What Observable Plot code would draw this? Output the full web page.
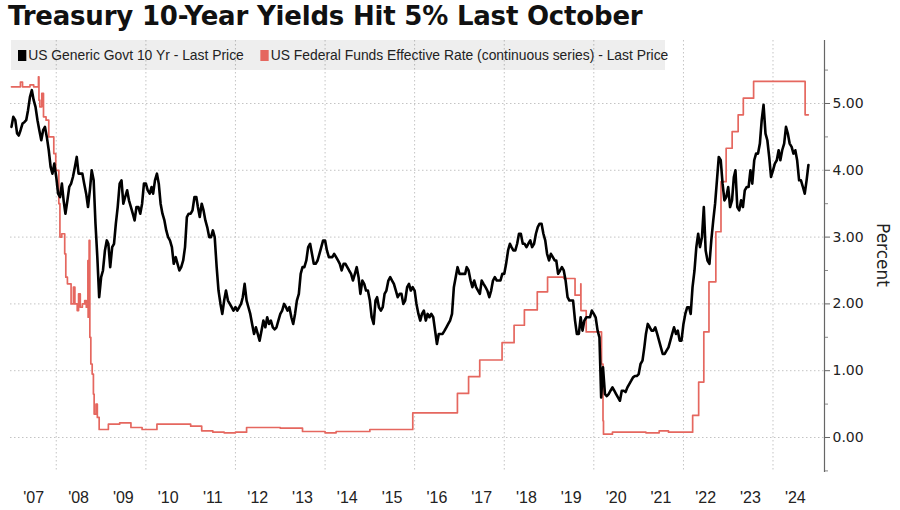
<!DOCTYPE html>
<html>
<head>
<meta charset="utf-8">
<script src="https://cdn.jsdelivr.net/npm/d3@7"></script>
<script src="https://cdn.jsdelivr.net/npm/@observablehq/plot@0.6"></script>
<style>
  body { margin: 0; background: #fff; }
  #wrap { position: relative; width: 900px; height: 510px; overflow: hidden; background: #fff; }
  #title { position: absolute; left: 8px; top: 1px; font: bold 26px "DejaVu Sans", sans-serif; line-height: 30px; color: #111; white-space: nowrap; letter-spacing: -0.2px; }
  #chart { position: absolute; left: 0; top: 36px; }
  #legend { position: absolute; left: 11px; top: 40px; width: 654px; height: 30px; background: rgba(0,0,0,0.065); }
  #legendInner { position: absolute; left: 7px; top: 0; transform-origin: 0 50%; transform: scaleX(0.925);
            font: 15px "Liberation Sans", sans-serif; color: #222; line-height: 30px; white-space: nowrap; }
  #legend span.sw { display: inline-block; width: 9px; height: 11px; margin-right: 2px; vertical-align: -1px; }
  #ylabel { position: absolute; left: 883px; top: 255px; transform: translate(-50%, -50%) rotate(90deg);
            font: 17px "DejaVu Sans", sans-serif; color: #222; white-space: nowrap; }
</style>
</head>
<body>
<div id="wrap">
  <div id="title"></div>
  <div id="chart"></div>
  <div id="legend"><div id="legendInner"></div></div>
  <div id="ylabel"></div>
</div>
<script>
// ---------------- DATA ----------------
const titleText = "Treasury 10-Year Yields Hit 5% Last October";
const seriesNames = ["US Generic Govt 10 Yr - Last Price", "US Federal Funds Effective Rate (continuous series) - Last Price"];
const axisTitle = "Percent";

// US 10Y yield, two readings per month (1st, 16th), starting Jan 2007
const tenYrStart = [2007, 0];
const tenYr2007 = [4.65,4.80, 4.75,4.55, 4.52,4.60, 4.70,4.72, 4.75,4.90, 5.10,5.20, 5.05,4.95, 4.75,4.60, 4.45,4.60, 4.65,4.50, 4.30,4.05, 3.95,4.10];
const tenYr2008 = [3.90,3.65, 3.60,3.80, 3.55,3.35, 3.55,3.75, 3.80,3.90, 4.05,4.20, 3.95,3.95, 3.95,3.80, 3.65,3.45, 3.70,4.00, 3.85,3.20, 2.70,2.10];
const tenYr2009 = [2.40,2.50, 2.80,2.95, 2.90,2.55, 2.85,2.90, 3.20,3.45, 3.80,3.85, 3.50,3.60, 3.70,3.55, 3.45,3.35, 3.25,3.45, 3.45,3.35, 3.50,3.80];
const tenYr2010 = [3.80,3.70, 3.65,3.75, 3.65,3.85, 3.95,3.80, 3.50,3.35, 3.25,3.10, 3.00,2.95, 2.85,2.60, 2.70,2.60, 2.50,2.55, 2.65,2.85, 3.30,3.35];
const tenYr2011 = [3.35,3.40, 3.60,3.60, 3.45,3.30, 3.50,3.40, 3.25,3.15, 3.00,3.00, 3.10,3.00, 2.55,2.20, 2.00,1.85, 2.05,2.20, 2.05,2.00, 1.95,1.90];
const tenYr2012 = [1.95,1.90, 1.95,2.00, 2.10,2.30, 2.05,1.95, 1.85,1.70, 1.55,1.65, 1.55,1.45, 1.60,1.75, 1.65,1.80, 1.70,1.75, 1.65,1.62, 1.65,1.75];
const tenYr2013 = [1.85,1.90, 2.00,1.95, 1.90,1.95, 1.80,1.70, 1.85,2.05, 2.15,2.45, 2.55,2.55, 2.65,2.85, 2.90,2.75, 2.60,2.60, 2.65,2.75, 2.85,2.95];
const tenYr2014 = [2.95,2.80, 2.70,2.70, 2.70,2.75, 2.70,2.65, 2.60,2.50, 2.60,2.60, 2.55,2.50, 2.45,2.35, 2.45,2.55, 2.40,2.15, 2.35,2.30, 2.20,2.20];
const tenYr2015 = [2.05,1.80, 1.70,2.05, 2.10,1.95, 1.90,1.95, 2.15,2.20, 2.35,2.40, 2.35,2.30, 2.20,2.10, 2.15,2.15, 2.00,2.05, 2.25,2.30, 2.20,2.25];
const tenYr2016 = [2.20,2.00, 1.85,1.75, 1.85,1.90, 1.75,1.85, 1.80,1.85, 1.80,1.60, 1.40,1.55, 1.55,1.55, 1.60,1.65, 1.70,1.75, 1.85,2.25, 2.40,2.55];
const tenYr2017 = [2.45,2.45, 2.45,2.45, 2.55,2.50, 2.35,2.25, 2.35,2.25, 2.20,2.15, 2.35,2.30, 2.25,2.20, 2.10,2.20, 2.35,2.40, 2.35,2.35, 2.35,2.45];
const tenYr2018 = [2.45,2.60, 2.80,2.90, 2.85,2.80, 2.80,2.90, 3.05,3.05, 2.90,2.90, 2.85,2.90, 2.95,2.85, 2.90,3.05, 3.15,3.20, 3.20,3.05, 2.95,2.75];
const tenYr2019 = [2.65,2.75, 2.70,2.65, 2.65,2.45, 2.50,2.55, 2.50,2.35, 2.10,2.05, 2.05,2.05, 1.75,1.55, 1.55,1.80, 1.60,1.75, 1.80,1.80, 1.80,1.90];
const tenYr2020 = [1.85,1.80, 1.60,1.50, 0.60,1.05, 0.65,0.62, 0.65,0.70, 0.75,0.70, 0.65,0.60, 0.55,0.70, 0.70,0.68, 0.75,0.80, 0.85,0.90, 0.92,0.92];
const tenYr2021 = [0.95,1.10, 1.15,1.35, 1.55,1.70, 1.65,1.60, 1.60,1.65, 1.55,1.45, 1.35,1.25, 1.25,1.30, 1.35,1.45, 1.55,1.65, 1.55,1.60, 1.45,1.45];
const tenYr2022 = [1.70,1.85, 1.95,1.95, 1.85,2.25, 2.50,2.85, 3.05,2.85, 3.00,3.45, 2.80,2.65, 2.60,2.95, 3.25,3.50, 3.85,4.20, 4.15,3.80, 3.55,3.60];
const tenYr2023 = [3.75,3.45, 3.55,3.90, 4.00,3.45, 3.40,3.55, 3.45,3.70, 3.75,3.75, 4.00,3.80, 4.15,4.25, 4.25,4.40, 4.75,4.98, 4.55,4.45, 4.20,3.90];
const tenYr2024 = [4.00,4.10, 4.15,4.30, 4.15,4.30, 4.40,4.65, 4.55,4.40, 4.35,4.25, 4.30,4.15, 3.85,3.85, 3.75,3.65, 3.85,4.08];

// Fed funds effective rate: change dates and levels (step series)
const fedDates = ["2007-01-01","2007-03-15","2007-04-01","2007-06-01","2007-07-01","2007-08-09","2007-08-13","2007-08-20","2007-09-05","2007-09-19","2007-10-10","2007-11-01","2007-12-12","2007-12-28",
  "2008-01-22","2008-01-31","2008-02-15","2008-03-10","2008-03-19","2008-04-01","2008-05-01","2008-05-20","2008-06-01","2008-06-20","2008-07-01","2008-07-15","2008-08-01","2008-08-20","2008-09-02","2008-09-15","2008-09-17","2008-09-25","2008-10-01","2008-10-09","2008-10-20","2008-10-30","2008-11-05","2008-11-20","2008-12-01","2008-12-16",
  "2009-03-01","2009-06-01","2009-09-01","2009-12-01","2010-04-01","2011-01-01","2011-04-01","2011-07-01","2011-10-01","2012-01-01","2012-04-01","2013-01-01","2013-07-01","2014-01-01","2014-04-01","2015-01-01",
  "2015-12-17","2016-12-15","2017-03-16","2017-06-15","2017-12-14","2018-03-22","2018-06-14","2018-09-27","2018-12-20","2019-05-01","2019-08-01","2019-09-17","2019-09-18","2019-10-31",
  "2020-03-04","2020-03-16","2020-03-20","2020-06-01","2021-03-01","2021-06-17","2021-09-01",
  "2022-03-17","2022-05-05","2022-06-16","2022-07-28","2022-09-22","2022-11-03","2022-12-15","2023-02-02","2023-03-23","2023-05-04","2023-07-27","2024-09-19","2024-10-15"];
const fedValues = [5.25,5.32,5.25,5.28,5.25,5.40,5.05,4.95,5.15,4.80,4.75,4.50,4.25,4.00,
  3.50,3.00,3.05,2.75,2.40,2.30,2.00,2.25,2.00,1.90,2.15,1.95,2.00,2.05,1.95,2.65,1.80,2.95,1.50,1.10,0.95,0.65,0.35,0.50,0.30,0.12,
  0.20,0.22,0.15,0.12,0.20,0.17,0.10,0.08,0.07,0.08,0.15,0.14,0.09,0.07,0.09,0.12,
  0.37,0.66,0.91,1.16,1.42,1.68,1.91,2.18,2.40,2.38,2.13,2.30,1.90,1.58,
  1.10,0.25,0.05,0.08,0.07,0.10,0.08,
  0.33,0.83,1.58,2.33,3.08,3.83,4.33,4.58,4.83,5.08,5.33,4.83,4.83];

const yTicks = [0, 1, 2, 3, 4, 5];
const yMinorTicks = [-0.5, 0.5, 1.5, 2.5, 3.5, 4.5, 5.5];
const gridYears = [2008, 2010, 2012, 2014, 2016, 2018, 2020, 2022, 2024];
const labelYears = [2007,2008,2009,2010,2011,2012,2013,2014,2015,2016,2017,2018,2019,2020,2021,2022,2023,2024];

// ---------------- BUILD ----------------
const tenYrAll = [tenYr2007,tenYr2008,tenYr2009,tenYr2010,tenYr2011,tenYr2012,tenYr2013,tenYr2014,tenYr2015,
  tenYr2016,tenYr2017,tenYr2018,tenYr2019,tenYr2020,tenYr2021,tenYr2022,tenYr2023,tenYr2024].flat();
const tenData = tenYrAll.map((v, i) => {
  const m = tenYrStart[1] + Math.floor(i / 2);
  return {date: new Date(Date.UTC(tenYrStart[0], m, i % 2 === 0 ? 1 : 16)), value: v};
});
const fedData = fedDates.map((d, i) => ({date: new Date(d + "T00:00:00Z"), value: fedValues[i]}));

const RED = "#e5675f";
const xStart = new Date(Date.UTC(2006, 11, 24));
const xEnd = new Date(Date.UTC(2025, 1, 24));

document.getElementById("title").textContent = titleText;
document.getElementById("ylabel").textContent = axisTitle;
const legend = document.getElementById("legendInner");
legend.innerHTML =
  `<span class="sw" id="sw0"></span><span id="lg0"></span>` +
  `<span style="margin-left:18px" class="sw" id="sw1"></span><span id="lg1"></span>`;
document.getElementById("sw0").style.background = "#000";
document.getElementById("sw1").style.background = RED;
document.getElementById("lg0").textContent = seriesNames[0];
document.getElementById("lg1").textContent = seriesNames[1];

const chart = Plot.plot({
  width: 900,
  height: 474,
  marginLeft: 10,
  marginRight: 76,
  marginTop: 4,
  marginBottom: 38,
  x: {type: "utc", domain: [xStart, xEnd]},
  y: {domain: [-0.524, 5.943]},
  style: {fontFamily: "DejaVu Sans, sans-serif", fontSize: "14px", color: "#222", background: "transparent", overflow: "visible"},
  marks: [
    Plot.gridX(gridYears.map(y => new Date(Date.UTC(y, 0, 1))), {stroke: "#c4c4c4", strokeOpacity: 1, strokeDasharray: "1.5,2.5"}),
    Plot.gridY(yTicks, {stroke: "#c4c4c4", strokeOpacity: 1, strokeDasharray: "1.5,2.5"}),
    Plot.line(fedData, {x: "date", y: "value", curve: "step-after", stroke: RED, strokeWidth: 1.7}),
    Plot.line(tenData, {x: "date", y: "value", stroke: "#000", strokeWidth: 2.6, strokeLinejoin: "round"}),
    Plot.ruleX([xEnd], {stroke: "#666", strokeWidth: 1.2}),
    Plot.axisY(yTicks, {anchor: "right", tickSize: 5, tickPadding: 3, tickFormat: d3.format(".2f"), label: null, fontSize: 14, fill: "#222", stroke: "#666"}),
    Plot.axisY(yMinorTicks, {anchor: "right", tickSize: 3, tickFormat: () => "", label: null, stroke: "#888"}),
    Plot.axisX(labelYears.map(y => new Date(Date.UTC(y, 6, 1))), {anchor: "bottom", tickSize: 0, tickPadding: 19,
      tickFormat: d => "'" + String(d.getUTCFullYear()).slice(2), label: null, fontSize: 16, fontFamily: "Liberation Sans, sans-serif", fill: "#222"})
  ]
});
document.getElementById("chart").appendChild(chart);
</script>
</body>
</html>
